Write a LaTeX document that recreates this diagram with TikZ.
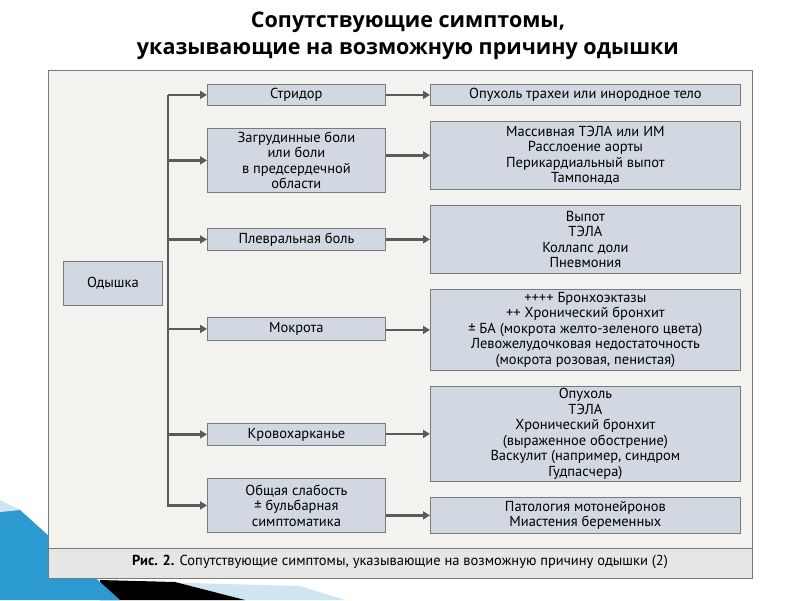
\documentclass[tikz,border=0pt]{standalone}
\usepackage{fontspec}
\setmainfont{PT Sans}
\newfontfamily\titlefont{Open Sans}
\usetikzlibrary{arrows.meta}
\definecolor{boxfill}{HTML}{D2D8E2}
\definecolor{boxline}{HTML}{7A7A7A}
\definecolor{panel}{HTML}{F4F2EE}
\definecolor{capfill}{HTML}{E6E6E6}
\definecolor{arr}{HTML}{5A5A5A}
\definecolor{lblue}{HTML}{2A9AD0}
\definecolor{pblue}{HTML}{CFE6F2}
\tikzset{
 bx/.style={draw=boxline,fill=boxfill,line width=0.8pt,align=center,font=\fontsize{14.5}{15.5}\selectfont,inner sep=0pt,anchor=north west},
 con/.style={draw=arr,line width=2.2pt,-{Triangle[length=7pt,width=8pt]}}
}
\newcommand{\bbox}[6]{\node[bx,minimum width=#3-#2,minimum height=#5-#4] (#1) at (#2,#4) {#6};}
\begin{document}
\begin{tikzpicture}[x=1pt,y=-1pt]
\useasboundingbox (0,0) rectangle (800,600);
\fill[white] (0,0) rectangle (800,600);
% decoration
\fill[pblue] (150,582) -- (300,586) -- (345,600) -- (160,600) -- cycle;
\fill[black] (100,580) -- (175,582) -- (245,600) -- (100,600) -- cycle;
\fill[lblue] (0,503) -- (20,510) -- (120,600) -- (0,600) -- cycle;
\fill[pblue] (0,500) -- (20,510) -- (0,512) -- cycle;
% title
\node[font=\titlefont\fontsize{21.5}{27}\selectfont\bfseries,align=center] (title) at (408,36) {Сопутствующие симптомы,\\ указывающие на возможную причину одышки};
% panel
\draw[boxline,fill=panel,line width=0.8pt] (48,70) rectangle (752,578);
\draw[boxline,fill=capfill,line width=0.6pt] (48,548) -- (752,548) -- (752,578) -- (48,578) -- cycle;
\node[font=\fontsize{14.5}{16}\selectfont] (cap) at (400,562) {\textbf{Рис. 2.} Сопутствующие симптомы, указывающие на возможную причину одышки (2)};
% boxes
\bbox{od}{63}{162}{261}{305}{Одышка}
\bbox{l1}{207}{385}{84}{105}{Стридор}
\bbox{l2}{207}{385}{128}{192}{Загрудинные боли\\или боли\\в предсердечной\\области}
\bbox{l3}{207}{385}{228}{250}{Плевральная боль}
\bbox{l4}{207}{385}{317}{340}{Мокрота}
\bbox{l5}{207}{385}{423}{445}{Кровохарканье}
\bbox{l6}{207}{385}{478}{532}{Общая слабость\\± бульбарная\\симптоматика}
\bbox{r1}{430}{740}{84}{105}{Опухоль трахеи или инородное тело}
\bbox{r2}{430}{740}{121}{189}{Массивная ТЭЛА или ИМ\\Расслоение аорты\\Перикардиальный выпот\\Тампонада}
\bbox{r3}{430}{740}{205}{273}{Выпот\\ТЭЛА\\Коллапс доли\\Пневмония}
\bbox{r4}{430}{740}{289}{370}{++++ Бронхоэктазы\\++ Хронический бронхит\\± БА (мокрота желто-зеленого цвета)\\Левожелудочковая недостаточность\\(мокрота розовая, пенистая)}
\bbox{r5}{430}{740}{386}{481}{Опухоль\\ТЭЛА\\Хронический бронхит\\(выраженное обострение)\\Васкулит (например, синдром\\Гудпасчера)}
\bbox{r6}{430}{740}{497}{533}{Патология мотонейронов\\Миастения беременных}
% trunk
\coordinate (t1) at (168,94.5);
\coordinate (t6) at (168,507);
\draw[arr,line width=2.2pt] (t1) -- (t6);
\foreach \i in {1,...,6}{
  \draw[con] (t1 |- l\i.west) -- (l\i.west);
  \draw[con] (l\i.east |- r\i.west) -- (r\i.west);
}
\end{tikzpicture}
\end{document}
